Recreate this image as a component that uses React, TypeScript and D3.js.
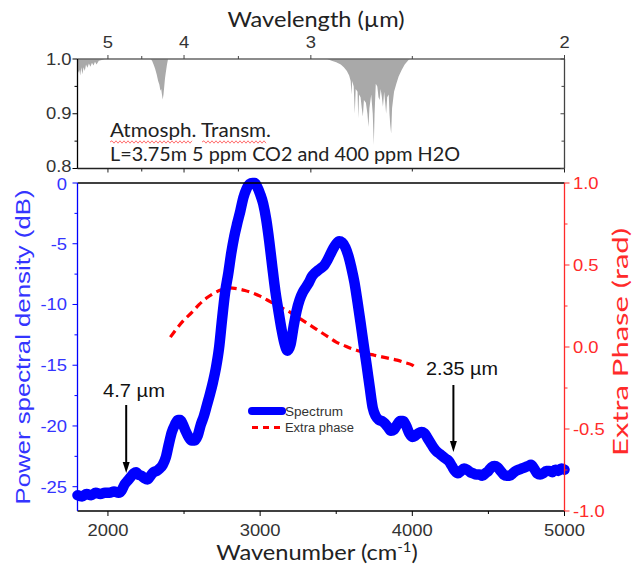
import React from "react";
import * as d3 from "d3";

// ---------- data ----------
const specWn = [1800,1830,1860,1890,1920,1950,1980,2010,2040,2070,2090,2110,2130,2150,2170,2185,2200,2220,2240,2260,2280,2300,2320,2340,2360,2380,2400,2420,2440,2460,2475,2490,2510,2530,2550,2570,2590,2610,2630,2650,2670,2690,2710,2730,2750,2770,2790,2810,2830,2850,2870,2890,2910,2930,2950,2965,2980,3000,3020,3040,3060,3080,3100,3120,3140,3160,3180,3200,3220,3240,3260,3280,3300,3320,3340,3360,3380,3400,3420,3440,3460,3480,3500,3520,3540,3560,3580,3600,3620,3640,3660,3680,3700,3720,3740,3760,3780,3800,3820,3840,3860,3880,3900,3920,3940,3960,3980,4000,4020,4040,4060,4080,4100,4120,4140,4160,4180,4200,4220,4240,4260,4280,4300,4320,4340,4360,4380,4400,4420,4440,4460,4480,4500,4520,4540,4560,4580,4600,4620,4640,4660,4680,4700,4720,4740,4760,4780,4800,4820,4840,4860,4880,4900,4920,4940,4960,4980,5000];
const specDb = [-25.7,-25.8,-25.6,-25.7,-25.5,-25.6,-25.5,-25.5,-25.4,-25.5,-25.3,-24.8,-24.5,-24.2,-23.9,-23.8,-24.0,-24.1,-24.3,-24.4,-24.1,-23.8,-23.7,-23.5,-23.2,-22.6,-21.5,-20.5,-19.9,-19.5,-19.5,-19.8,-20.4,-20.9,-21.2,-21.2,-20.8,-19.9,-19.2,-18.3,-17.4,-16.4,-15.2,-13.6,-11.2,-9.0,-7.5,-5.8,-4.4,-3.3,-2.3,-1.2,-0.5,-0.1,0,0,-0.3,-0.9,-1.7,-3.0,-4.8,-6.9,-8.9,-10.5,-12.0,-13.2,-13.8,-13.3,-11.8,-10.5,-9.6,-9.0,-8.6,-8.2,-7.7,-7.4,-7.2,-7.0,-6.8,-6.4,-5.9,-5.4,-5.0,-4.8,-4.9,-5.3,-6.0,-7.0,-8.2,-9.8,-11.5,-13.3,-15.0,-16.8,-18.5,-19.2,-19.5,-19.6,-19.8,-20.1,-20.4,-20.3,-19.9,-19.6,-19.6,-20.0,-20.6,-20.9,-20.8,-20.6,-20.5,-20.6,-21.0,-21.4,-21.8,-22.1,-22.3,-22.5,-22.7,-22.9,-23.3,-23.7,-23.9,-23.7,-23.5,-23.6,-23.8,-23.9,-24.0,-24.0,-24.1,-23.9,-23.7,-23.4,-23.3,-23.4,-23.7,-24.0,-24.1,-24.1,-23.9,-23.7,-23.6,-23.5,-23.4,-23.3,-23.2,-23.5,-23.9,-24.0,-23.9,-23.7,-23.7,-23.8,-23.6,-23.7,-23.5,-23.6];

const phaseWn = [2410,2450,2500,2550,2600,2650,2700,2750,2800,2850,2900,2950,3000,3050,3100,3150,3200,3250,3300,3350,3400,3450,3500,3550,3600,3650,3700,3750,3800,3850,3900,3950,4000,4015];
const phaseRad = [0.06,0.11,0.165,0.21,0.26,0.30,0.33,0.35,0.36,0.355,0.345,0.33,0.31,0.285,0.26,0.235,0.21,0.18,0.15,0.12,0.09,0.06,0.03,0.01,-0.01,-0.025,-0.04,-0.05,-0.06,-0.07,-0.08,-0.095,-0.11,-0.12];

const transWn = [1800,1805,1812,1818,1825,1832,1840,1848,1856,1865,1875,1885,1895,1905,1915,1925,1940,1960,1980,2280,2290,2300,2310,2320,2330,2338,2345,2350,2355,2360,2365,2370,2375,2380,2388,2395,3440,3470,3500,3530,3550,3570,3585,3595,3600,3605,3615,3622,3628,3640,3645,3650,3660,3668,3675,3682,3695,3705,3712,3718,3730,3740,3747,3752,3760,3770,3778,3785,3792,3800,3807,3815,3822,3828,3835,3845,3850,3855,3861,3867,3880,3895,3910,3930,3950,3975,3985,5000];
const transT = [0.985,0.975,0.98,0.97,0.985,0.972,0.985,0.978,0.99,0.984,0.992,0.986,0.993,0.988,0.995,0.99,0.997,0.998,1.0,1.0,0.997,0.99,0.982,0.972,0.96,0.953,0.942,0.945,0.935,0.926,0.935,0.95,0.965,0.975,0.99,1.0,1.0,0.997,0.994,0.99,0.985,0.978,0.97,0.96,0.935,0.96,0.95,0.9,0.945,0.94,0.892,0.935,0.93,0.91,0.895,0.925,0.92,0.9,0.876,0.91,0.935,0.9,0.843,0.9,0.955,0.95,0.93,0.925,0.945,0.93,0.913,0.94,0.92,0.9,0.93,0.935,0.9,0.88,0.864,0.91,0.94,0.955,0.968,0.98,0.99,0.998,1.0,1.0];

const bottomTicks = [2000, 3000, 4000, 5000];
const bottomMinor = [2500, 3500, 4500];
const leftTicks = [0, -5, -10, -15, -20, -25];
const leftMinor = [-2.5, -7.5, -12.5, -17.5, -22.5];
const rightTicks = [1.0, 0.5, 0.0, -0.5, -1.0];
const rightMinor = [0.75, 0.25, -0.25, -0.75];
const topLambda = [5, 4, 3, 2];
const topLambdaMinor = [4.5, 3.5, 2.5];
const transTicks = [1.0, 0.9, 0.8];
const transMinor = [0.95, 0.85];

// ---------- layout ----------
const W = 634, H = 567;
const X0 = 77.5, X1 = 564.5;
const x = d3.scaleLinear().domain([1800, 5000]).range([X0, X1]);
const yL = d3.scaleLinear().domain([-27, 0]).range([511, 183]);
const yR = d3.scaleLinear().domain([-1, 1]).range([511, 183]);
const yT = d3.scaleLinear().domain([0.8, 1.0]).range([168.5, 59]);

const BLUE = "#0000ff";
const BLUE_T = "#3434ff";
const RED = "#ff2a2a";
const GREY_T = "#333";
const ARIAL = "'Liberation Sans', Arial, sans-serif";
const CAL = "Lato, 'Open Sans', sans-serif";
const SX = 1.15; // horizontal stretch of the tick labels

function squiggle(x0: number, x1: number, y: number) {
  let p = `M${x0},${y}`;
  let up = true;
  for (let xx = x0 + 2; xx <= x1; xx += 2) {
    p += ` L${xx},${y + (up ? -1.2 : 1.2)}`;
    up = !up;
  }
  return p;
}

function TickText(props: { x: number; y: number; anchor: string; fill: string; children: any; size?: number }) {
  return (
    <text
      transform={`translate(${props.x},${props.y}) scale(${SX},1)`}
      textAnchor={props.anchor}
      fontFamily={ARIAL}
      fontSize={props.size ?? 16}
      fill={props.fill}
    >
      {props.children}
    </text>
  );
}

export default function App() {
  const specLine = d3.line<number>().x((_, i) => x(specWn[i])).y((d) => yL(d)).curve(d3.curveMonotoneX);
  const phaseLine = d3.line<number>().x((_, i) => x(phaseWn[i])).y((d) => yR(d)).curve(d3.curveMonotoneX);
  const transArea = d3.area<number>().x((_, i) => x(transWn[i])).y0(yT(1)).y1((d) => yT(d));

  const arrow = (ax: number, yTop: number, yTip: number) => (
    <g>
      <line x1={ax} x2={ax} y1={yTop} y2={yTip - 8} stroke="#000" strokeWidth={2} />
      <path d={`M${ax - 3.5},${yTip - 11} L${ax + 3.5},${yTip - 11} L${ax},${yTip} Z`} fill="#000" />
    </g>
  );

  return (
    <svg width={W} height={H} style={{ display: "block", position: "absolute", left: 0, top: 0 }} xmlns="http://www.w3.org/2000/svg">
      <rect width={W} height={H} fill="#fff" />

      {/* ---------- top panel ---------- */}
      <path d={transArea(transT) || ""} fill="#a9a9a9" />
      <line x1={X0} x2={X1} y1={yT(1)} y2={yT(1)} stroke="#666" strokeWidth={1.6} />
      <line x1={X1} x2={X1} y1={yT(1)} y2={yT(0.8)} stroke="#444" strokeWidth={1.3} />
      <line x1={X0} x2={X1} y1={yT(0.8)} y2={yT(0.8)} stroke="#222" strokeWidth={1.3} />
      <line x1={X0} x2={X0} y1={yT(1)} y2={yT(0.8)} stroke="#000" strokeWidth={1.3} />
      {topLambda.map((l) => (
        <g key={"tl" + l}>
          <line x1={x(1e4 / l)} x2={x(1e4 / l)} y1={yT(1)} y2={yT(1) - 4} stroke="#444" />
          <line x1={x(1e4 / l)} x2={x(1e4 / l)} y1={yT(0.8)} y2={yT(0.8) + 4} stroke="#222" />
          <TickText x={x(1e4 / l)} y={48} anchor="middle" fill={GREY_T}>{l}</TickText>
        </g>
      ))}
      {topLambdaMinor.map((l) => (
        <g key={"tlm" + l}>
          <line x1={x(1e4 / l)} x2={x(1e4 / l)} y1={yT(1)} y2={yT(1) - 3} stroke="#444" />
          <line x1={x(1e4 / l)} x2={x(1e4 / l)} y1={yT(0.8)} y2={yT(0.8) + 3} stroke="#222" />
        </g>
      ))}
      {transTicks.map((t) => (
        <g key={"tt" + t}>
          <line x1={X0} x2={X0 - 5} y1={yT(t)} y2={yT(t)} stroke="#000" />
          <line x1={X1} x2={X1 - 4} y1={yT(t)} y2={yT(t)} stroke="#444" />
          <TickText x={71.5} y={Math.min(yT(t) + 5.5, 172)} anchor="end" fill={GREY_T}>{t.toFixed(1)}</TickText>
        </g>
      ))}
      {transMinor.map((t) => (
        <g key={"tm" + t}>
          <line x1={X0} x2={X0 - 3} y1={yT(t)} y2={yT(t)} stroke="#000" />
          <line x1={X1} x2={X1 - 3} y1={yT(t)} y2={yT(t)} stroke="#444" />
        </g>
      ))}
      <text x={316} y={27} textAnchor="middle" fontFamily={CAL} fontSize={22} fill="#222" textLength={177} lengthAdjust="spacingAndGlyphs">Wavelength (µm)</text>
      <text x={110} y={137} fontFamily={CAL} fontSize={19.5} fill="#222" textLength={161} lengthAdjust="spacingAndGlyphs">Atmosph. Transm.</text>
      <path d={squiggle(110, 193, 142)} fill="none" stroke="#ff6060" strokeWidth={0.9} />
      <path d={squiggle(202, 266, 142)} fill="none" stroke="#ff6060" strokeWidth={0.9} />
      <text x={110} y={161} fontFamily={CAL} fontSize={19.5} fill="#222" textLength={350} lengthAdjust="spacingAndGlyphs">L=3.75m 5 ppm CO2 and 400 ppm H2O</text>

      {/* ---------- main panel ---------- */}
      <path d={phaseLine(phaseRad) || ""} fill="none" stroke="#ff0000" strokeWidth={3.2} strokeDasharray="8 5" />
      <path d={specLine(specDb) || ""} fill="none" stroke={BLUE} strokeWidth={10.5} strokeLinejoin="round" strokeLinecap="round" />

      <line x1={X0} x2={X1} y1={183} y2={183} stroke="#000" strokeWidth={1.3} />
      <line x1={X0} x2={X1} y1={511} y2={511} stroke="#000" strokeWidth={1.3} />
      <line x1={X0} x2={X0} y1={183} y2={511} stroke={BLUE} strokeWidth={1.3} />
      <line x1={X1} x2={X1} y1={183} y2={511} stroke={RED} strokeWidth={1.3} />

      {bottomTicks.map((t) => (
        <g key={"b" + t}>
          <line x1={x(t)} x2={x(t)} y1={511} y2={516} stroke="#000" />
          <TickText x={x(t)} y={535.5} anchor="middle" fill={GREY_T}>{t}</TickText>
        </g>
      ))}
      {bottomMinor.map((t) => (
        <line key={"bm" + t} x1={x(t)} x2={x(t)} y1={511} y2={514} stroke="#000" />
      ))}
      {leftTicks.map((t) => (
        <g key={"l" + t}>
          <line x1={X0} x2={X0 - 5} y1={yL(t)} y2={yL(t)} stroke={BLUE} />
          <TickText x={67} y={Math.max(yL(t) + 6, 190)} anchor="end" fill={BLUE_T}>{t}</TickText>
        </g>
      ))}
      {leftMinor.map((t) => (
        <line key={"lm" + t} x1={X0} x2={X0 - 3} y1={yL(t)} y2={yL(t)} stroke={BLUE} />
      ))}
      {rightTicks.map((t) => (
        <g key={"r" + t}>
          <line x1={X1} x2={X1 + 5} y1={yR(t)} y2={yR(t)} stroke={RED} />
          <TickText x={573} y={yR(t) + 6} anchor="start" fill={RED}>{t.toFixed(1)}</TickText>
        </g>
      ))}
      {rightMinor.map((t) => (
        <line key={"rm" + t} x1={X1} x2={X1 + 3} y1={yR(t)} y2={yR(t)} stroke={RED} />
      ))}

      <text transform="translate(30,347) rotate(-90)" textAnchor="middle" fontFamily={ARIAL} fontSize={20.5} fill={BLUE_T} textLength={315} lengthAdjust="spacingAndGlyphs">Power spectral density (dB)</text>
      <text transform="translate(628,342) rotate(-90)" textAnchor="middle" fontFamily={CAL} fontSize={22} fill={RED} textLength={228} lengthAdjust="spacingAndGlyphs">Extra Phase (rad)</text>
      <text transform="translate(317,559.5) scale(1.1,1)" textAnchor="middle" fontFamily={CAL} fontSize={21.5} fill="#222">
        Wavenumber (cm<tspan fontSize={13.5} dy={-8}>-1</tspan><tspan dy={8}>)</tspan>
      </text>

      {/* arrows */}
      <text x={134} y={397} textAnchor="middle" fontFamily={ARIAL} fontSize={18} fill="#111" textLength={62} lengthAdjust="spacingAndGlyphs">4.7 µm</text>
      {arrow(x(2120), 405, 473)}
      <text x={462} y={375} textAnchor="middle" fontFamily={ARIAL} fontSize={18} fill="#111" textLength={72} lengthAdjust="spacingAndGlyphs">2.35 µm</text>
      {arrow(x(4270), 385, 452)}

      {/* legend */}
      <line x1={252} x2={282} y1={411} y2={411} stroke={BLUE} strokeWidth={8} strokeLinecap="round" />
      <text x={285} y={415.5} fontFamily={ARIAL} fontSize={12} fill={GREY_T} textLength={58} lengthAdjust="spacingAndGlyphs">Spectrum</text>
      <line x1={252} x2={284} y1={427.5} y2={427.5} stroke="#ff0000" strokeWidth={3} strokeDasharray="6 5" />
      <text x={285} y={431.5} fontFamily={ARIAL} fontSize={12} fill={GREY_T} textLength={69} lengthAdjust="spacingAndGlyphs">Extra phase</text>
    </svg>
  );
}
